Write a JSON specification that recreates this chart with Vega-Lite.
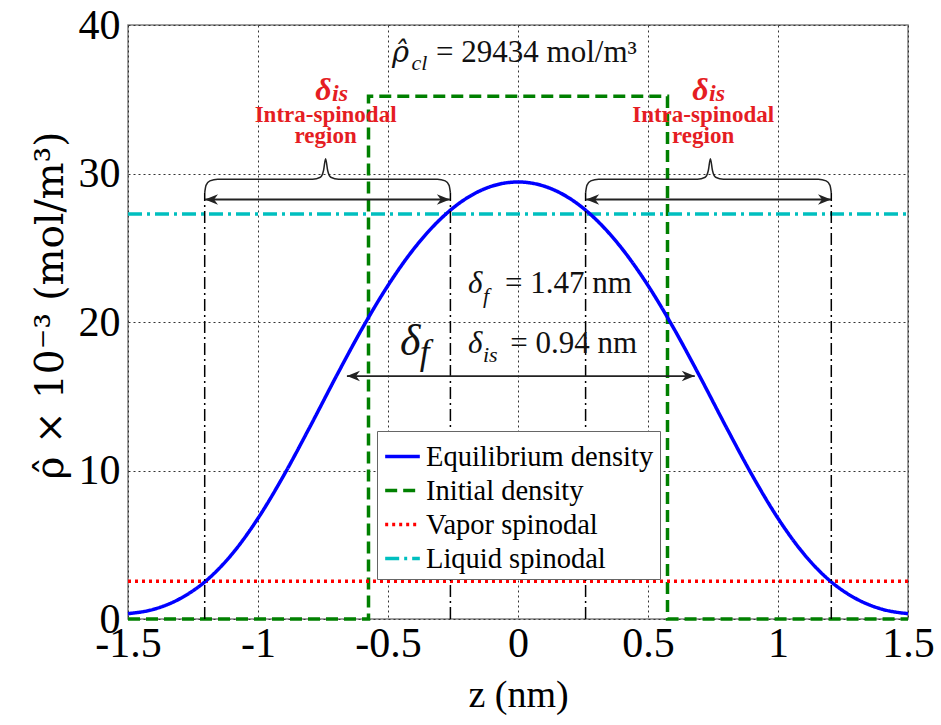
{
  "$schema": "https://vega.github.io/schema/vega-lite/v6.json",
  "width": 780,
  "height": 594,
  "autosize": {"type": "none"},
  "padding": {"left": 128, "top": 25, "right": 33, "bottom": 106},
  "background": "white",
  "config": {
    "view": {"stroke": "#808080", "strokeWidth": 1.5},
    "font": "Liberation Serif",
    "legend": {
      "orient": "none",
      "legendX": 249,
      "legendY": 406,
      "fillColor": "white",
      "strokeColor": "#666666",
      "padding": 6,
      "labelFont": "Liberation Serif",
      "labelFontSize": 28.5,
      "labelColor": "black",
      "labelLimit": 400,
      "labelOffset": 4,
      "symbolType": "stroke",
      "symbolSize": 1200,
      "symbolStrokeWidth": 3.5,
      "rowPadding": 0
    }
  },
  "layer": [
    {
      "data": {"values": [
        {"z": -1.5, "rho": 0, "i": 0, "series": "Initial density"},
        {"z": -0.575, "rho": 0, "i": 1, "series": "Initial density"},
        {"z": -0.575, "rho": 35.2, "i": 2, "series": "Initial density"},
        {"z": 0.575, "rho": 35.2, "i": 3, "series": "Initial density"},
        {"z": 0.575, "rho": 0, "i": 4, "series": "Initial density"},
        {"z": 1.5, "rho": 0, "i": 5, "series": "Initial density"},
        {"z": -1.5, "rho": 2.55, "i": 0, "series": "Vapor spinodal"},
        {"z": 1.5, "rho": 2.55, "i": 1, "series": "Vapor spinodal"},
        {"z": -1.5, "rho": 27.27, "i": 0, "series": "Liquid spinodal"},
        {"z": 1.5, "rho": 27.27, "i": 1, "series": "Liquid spinodal"}
      ]},
      "mark": {"type": "line", "strokeWidth": 3.5},
      "encoding": {
        "x": {
          "field": "z", "type": "quantitative",
          "scale": {"domain": [-1.5, 1.5], "nice": false, "zero": false},
          "axis": {
            "title": "z (nm)",
            "values": [-1.5, -1, -0.5, 0, 0.5, 1, 1.5],
            "labelExpr": "toString(datum.value)",
            "labelFont": "Liberation Serif",
            "labelFontSize": 42,
            "labelColor": "black",
            "labelPadding": 4,
            "labelFlush": false,
            "labelOverlap": false,
            "ticks": false,
            "domain": false,
            "grid": true,
            "gridDash": [2, 3],
            "gridColor": "#333333",
            "gridWidth": 1,
            "titleFont": "Liberation Serif",
            "titleFontSize": 38,
            "titleFontWeight": "normal",
            "titleColor": "black",
            "titleY": 76,
            "titleBaseline": "middle"
          }
        },
        "y": {
          "field": "rho", "type": "quantitative",
          "scale": {"domain": [0, 40], "nice": false},
          "axis": {
            "title": "ρ̂ × 10⁻³ (mol/m³)",
            "values": [0, 10, 20, 30, 40],
            "labelFont": "Liberation Serif",
            "labelFontSize": 42,
            "labelColor": "black",
            "labelPadding": 8,
            "labelFlush": false,
            "labelOverlap": false,
            "ticks": false,
            "domain": false,
            "grid": true,
            "gridDash": [2, 3],
            "gridColor": "#333333",
            "gridWidth": 1,
            "titleFont": "DejaVu Serif",
            "titleFontSize": 39,
            "titleFontWeight": "normal",
            "titleColor": "black",
            "titleAngle": -90,
            "titleX": -66,
            "titleY": 280,
            "titleAlign": "center",
            "titleBaseline": "alphabetic"
          }
        },
        "order": {"field": "i", "type": "quantitative"},
        "color": {
          "field": "series", "type": "nominal",
          "scale": {"domain": ["Equilibrium density", "Initial density", "Vapor spinodal", "Liquid spinodal"], "range": ["#0000ff", "#008000", "#ff0000", "#00bfbf"]},
          "legend": {"title": null}
        },
        "strokeDash": {
          "field": "series", "type": "nominal",
          "scale": {"domain": ["Equilibrium density", "Initial density", "Vapor spinodal", "Liquid spinodal"], "range": [[1, 0], [12, 6], [3, 4], [14, 5, 3, 5]]},
          "legend": {"title": null}
        }
      }
    },
    {
      "data": {"values": [
        {"z": -1.5, "rho": 0.36, "series": "Equilibrium density"},
        {"z": -1.4, "rho": 0.66, "series": "Equilibrium density"},
        {"z": -1.3, "rho": 1.37, "series": "Equilibrium density"},
        {"z": -1.2, "rho": 2.57, "series": "Equilibrium density"},
        {"z": -1.1, "rho": 4.37, "series": "Equilibrium density"},
        {"z": -1.0, "rho": 6.78, "series": "Equilibrium density"},
        {"z": -0.9, "rho": 9.70, "series": "Equilibrium density"},
        {"z": -0.8, "rho": 12.95, "series": "Equilibrium density"},
        {"z": -0.7, "rho": 16.31, "series": "Equilibrium density"},
        {"z": -0.6, "rho": 19.54, "series": "Equilibrium density"},
        {"z": -0.5, "rho": 22.46, "series": "Equilibrium density"},
        {"z": -0.4, "rho": 24.94, "series": "Equilibrium density"},
        {"z": -0.3, "rho": 26.90, "series": "Equilibrium density"},
        {"z": -0.2, "rho": 28.31, "series": "Equilibrium density"},
        {"z": -0.1, "rho": 29.15, "series": "Equilibrium density"},
        {"z": 0.0, "rho": 29.43, "series": "Equilibrium density"},
        {"z": 0.1, "rho": 29.15, "series": "Equilibrium density"},
        {"z": 0.2, "rho": 28.31, "series": "Equilibrium density"},
        {"z": 0.3, "rho": 26.90, "series": "Equilibrium density"},
        {"z": 0.4, "rho": 24.94, "series": "Equilibrium density"},
        {"z": 0.5, "rho": 22.46, "series": "Equilibrium density"},
        {"z": 0.6, "rho": 19.54, "series": "Equilibrium density"},
        {"z": 0.7, "rho": 16.31, "series": "Equilibrium density"},
        {"z": 0.8, "rho": 12.95, "series": "Equilibrium density"},
        {"z": 0.9, "rho": 9.70, "series": "Equilibrium density"},
        {"z": 1.0, "rho": 6.78, "series": "Equilibrium density"},
        {"z": 1.1, "rho": 4.37, "series": "Equilibrium density"},
        {"z": 1.2, "rho": 2.57, "series": "Equilibrium density"},
        {"z": 1.3, "rho": 1.37, "series": "Equilibrium density"},
        {"z": 1.4, "rho": 0.66, "series": "Equilibrium density"},
        {"z": 1.5, "rho": 0.36, "series": "Equilibrium density"}
      ]},
      "mark": {"type": "line", "interpolate": "monotone", "strokeWidth": 3.5},
      "encoding": {
        "x": {"field": "z", "type": "quantitative"},
        "y": {"field": "rho", "type": "quantitative"},
        "color": {
          "field": "series", "type": "nominal",
          "scale": {"domain": ["Equilibrium density", "Initial density", "Vapor spinodal", "Liquid spinodal"], "range": ["#0000ff", "#008000", "#ff0000", "#00bfbf"]},
          "legend": {"title": null}
        },
        "strokeDash": {
          "field": "series", "type": "nominal",
          "scale": {"domain": ["Equilibrium density", "Initial density", "Vapor spinodal", "Liquid spinodal"], "range": [[1, 0], [12, 6], [3, 4], [14, 5, 3, 5]]},
          "legend": {"title": null}
        }
      }
    },
    {
      "data": {"values": [
        {"z": -1.205, "lo": 0, "hi": 28.7},
        {"z": -0.26, "lo": 0, "hi": 28.7},
        {"z": 0.26, "lo": 0, "hi": 28.7},
        {"z": 1.205, "lo": 0, "hi": 28.7}
      ]},
      "mark": {"type": "rule", "color": "black", "strokeWidth": 1.5, "strokeDash": [12, 4, 2, 4]},
      "encoding": {
        "x": {"field": "z", "type": "quantitative"},
        "y": {"field": "lo", "type": "quantitative"},
        "y2": {"field": "hi"}
      }
    },
    {
      "data": {"values": [
        {"a": -1.204, "b": -0.262, "r": 28.25},
        {"a": 0.262, "b": 1.204, "r": 28.25},
        {"a": -0.658, "b": 0.68, "r": 16.36}
      ]},
      "mark": {"type": "rule", "color": "#222222", "strokeWidth": 1.8},
      "encoding": {
        "x": {"field": "a", "type": "quantitative"},
        "x2": {"field": "b"},
        "y": {"field": "r", "type": "quantitative"}
      }
    },
    {
      "data": {"values": [
        {"a": -1.204, "r": 28.25},
        {"a": 0.262, "r": 28.25},
        {"a": -0.658, "r": 16.36}
      ]},
      "mark": {"type": "point", "shape": "M0,0 L2,-0.8 L1.4,0 L2,0.8 Z", "size": 170, "filled": true, "color": "#222222", "opacity": 1},
      "encoding": {
        "x": {"field": "a", "type": "quantitative"},
        "y": {"field": "r", "type": "quantitative"}
      }
    },
    {
      "data": {"values": [
        {"a": -0.262, "r": 28.25},
        {"a": 1.204, "r": 28.25},
        {"a": 0.68, "r": 16.36}
      ]},
      "mark": {"type": "point", "shape": "M0,0 L-2,-0.8 L-1.4,0 L-2,0.8 Z", "size": 170, "filled": true, "color": "#222222", "opacity": 1},
      "encoding": {
        "x": {"field": "a", "type": "quantitative"},
        "y": {"field": "r", "type": "quantitative"}
      }
    },
    {
      "data": {"values": [
        {"b": "L", "i": 0, "z": -1.205, "r": 28.7},
        {"b": "L", "i": 1, "z": -1.2, "r": 29.2},
        {"b": "L", "i": 2, "z": -1.185, "r": 29.5},
        {"b": "L", "i": 3, "z": -1.155, "r": 29.62},
        {"b": "L", "i": 4, "z": -0.79, "r": 29.62},
        {"b": "L", "i": 5, "z": -0.76, "r": 29.75},
        {"b": "L", "i": 6, "z": -0.748, "r": 30.2},
        {"b": "L", "i": 7, "z": -0.74, "r": 31.0},
        {"b": "L", "i": 8, "z": -0.732, "r": 30.2},
        {"b": "L", "i": 9, "z": -0.72, "r": 29.75},
        {"b": "L", "i": 10, "z": -0.69, "r": 29.62},
        {"b": "L", "i": 11, "z": -0.31, "r": 29.62},
        {"b": "L", "i": 12, "z": -0.28, "r": 29.5},
        {"b": "L", "i": 13, "z": -0.265, "r": 29.2},
        {"b": "L", "i": 14, "z": -0.26, "r": 28.7},
        {"b": "R", "i": 0, "z": 0.26, "r": 28.7},
        {"b": "R", "i": 1, "z": 0.265, "r": 29.2},
        {"b": "R", "i": 2, "z": 0.28, "r": 29.5},
        {"b": "R", "i": 3, "z": 0.31, "r": 29.62},
        {"b": "R", "i": 4, "z": 0.69, "r": 29.62},
        {"b": "R", "i": 5, "z": 0.72, "r": 29.75},
        {"b": "R", "i": 6, "z": 0.732, "r": 30.2},
        {"b": "R", "i": 7, "z": 0.74, "r": 31.0},
        {"b": "R", "i": 8, "z": 0.748, "r": 30.2},
        {"b": "R", "i": 9, "z": 0.76, "r": 29.75},
        {"b": "R", "i": 10, "z": 0.79, "r": 29.62},
        {"b": "R", "i": 11, "z": 1.155, "r": 29.62},
        {"b": "R", "i": 12, "z": 1.185, "r": 29.5},
        {"b": "R", "i": 13, "z": 1.2, "r": 29.2},
        {"b": "R", "i": 14, "z": 1.205, "r": 28.7}
      ]},
      "mark": {"type": "line", "interpolate": "monotone", "color": "#222222", "strokeWidth": 1.5},
      "encoding": {
        "x": {"field": "z", "type": "quantitative"},
        "y": {"field": "r", "type": "quantitative"},
        "detail": {"field": "b", "type": "nominal"},
        "order": {"field": "i", "type": "quantitative"}
      }
    },
    {
      "data": {"values": [
        {"t": "= 29434 mol/m³", "z": -0.315, "r": 37.5},
        {"t": "= 1.47 nm", "z": -0.05, "r": 21.95},
        {"t": "= 0.94 nm", "z": -0.03, "r": 17.9}
      ]},
      "mark": {"type": "text", "font": "Liberation Serif", "fontSize": 31, "color": "#111111", "align": "left", "baseline": "alphabetic"},
      "encoding": {
        "x": {"field": "z", "type": "quantitative"},
        "y": {"field": "r", "type": "quantitative"},
        "text": {"field": "t"}
      }
    },
    {
      "data": {"values": [
        {"t": "ρ̂", "z": -0.485, "r": 37.5}
      ]},
      "mark": {"type": "text", "font": "DejaVu Serif", "fontSize": 29, "fontStyle": "italic", "color": "#111111", "align": "left", "baseline": "alphabetic"},
      "encoding": {
        "x": {"field": "z", "type": "quantitative"},
        "y": {"field": "r", "type": "quantitative"},
        "text": {"field": "t"}
      }
    },
    {
      "data": {"values": [
        {"t": "δ", "z": -0.192, "r": 21.95},
        {"t": "δ", "z": -0.192, "r": 17.9}
      ]},
      "mark": {"type": "text", "font": "Liberation Serif", "fontSize": 31, "fontStyle": "italic", "color": "#111111", "align": "left", "baseline": "alphabetic"},
      "encoding": {
        "x": {"field": "z", "type": "quantitative"},
        "y": {"field": "r", "type": "quantitative"},
        "text": {"field": "t"}
      }
    },
    {
      "data": {"values": [
        {"t": "cl", "z": -0.41, "r": 37.0},
        {"t": "f", "z": -0.135, "r": 21.3},
        {"t": "is", "z": -0.135, "r": 17.3}
      ]},
      "mark": {"type": "text", "font": "Liberation Serif", "fontSize": 22, "fontStyle": "italic", "color": "#111111", "align": "left", "baseline": "alphabetic"},
      "encoding": {
        "x": {"field": "z", "type": "quantitative"},
        "y": {"field": "r", "type": "quantitative"},
        "text": {"field": "t"}
      }
    },
    {
      "data": {"values": [
        {"t": "δ", "z": -0.454, "r": 17.78}
      ]},
      "mark": {"type": "text", "font": "Liberation Serif", "fontSize": 44, "fontStyle": "italic", "color": "#111111", "align": "left", "baseline": "alphabetic"},
      "encoding": {
        "x": {"field": "z", "type": "quantitative"},
        "y": {"field": "r", "type": "quantitative"},
        "text": {"field": "t"}
      }
    },
    {
      "data": {"values": [
        {"t": "f", "z": -0.378, "r": 17.2}
      ]},
      "mark": {"type": "text", "font": "Liberation Serif", "fontSize": 35, "fontStyle": "italic", "color": "#111111", "align": "left", "baseline": "alphabetic"},
      "encoding": {
        "x": {"field": "z", "type": "quantitative"},
        "y": {"field": "r", "type": "quantitative"},
        "text": {"field": "t"}
      }
    },
    {
      "data": {"values": [
        {"t": "δ", "z": -0.78, "r": 34.95},
        {"t": "δ", "z": 0.67, "r": 34.95}
      ]},
      "mark": {"type": "text", "font": "Liberation Serif", "fontSize": 32, "fontStyle": "italic", "fontWeight": "bold", "color": "#e51d23", "align": "left", "baseline": "alphabetic"},
      "encoding": {
        "x": {"field": "z", "type": "quantitative"},
        "y": {"field": "r", "type": "quantitative"},
        "text": {"field": "t"}
      }
    },
    {
      "data": {"values": [
        {"t": "is", "z": -0.715, "r": 34.85},
        {"t": "is", "z": 0.735, "r": 34.85}
      ]},
      "mark": {"type": "text", "font": "Liberation Serif", "fontSize": 24, "fontStyle": "italic", "fontWeight": "bold", "color": "#e51d23", "align": "left", "baseline": "alphabetic"},
      "encoding": {
        "x": {"field": "z", "type": "quantitative"},
        "y": {"field": "r", "type": "quantitative"},
        "text": {"field": "t"}
      }
    },
    {
      "data": {"values": [
        {"t": "Intra-spinodal", "z": -0.74, "r": 33.45},
        {"t": "region", "z": -0.74, "r": 32.05},
        {"t": "Intra-spinodal", "z": 0.712, "r": 33.45},
        {"t": "region", "z": 0.712, "r": 32.05}
      ]},
      "mark": {"type": "text", "font": "Liberation Serif", "fontSize": 23, "fontWeight": "bold", "color": "#e51d23", "align": "center", "baseline": "alphabetic"},
      "encoding": {
        "x": {"field": "z", "type": "quantitative"},
        "y": {"field": "r", "type": "quantitative"},
        "text": {"field": "t"}
      }
    }
  ]
}
